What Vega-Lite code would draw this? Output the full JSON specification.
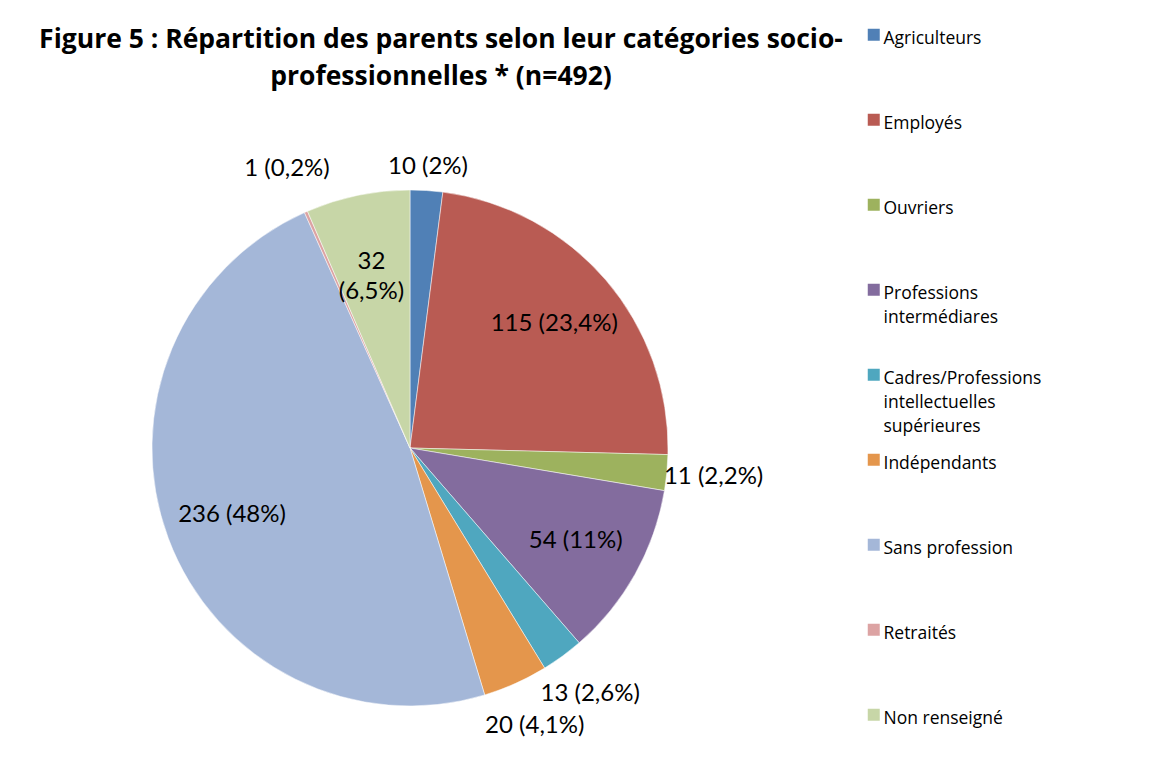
{
  "$schema": "https://vega.github.io/schema/vega-lite/v6.json",
  "width": 516,
  "height": 516,
  "autosize": {"type": "none"},
  "padding": {"left": 152, "top": 190, "right": 484, "bottom": 70},
  "background": "white",
  "config": {"view": {"stroke": null}, "font": "Lato", "style": {"guide-label": {"lineHeight": 24, "dy": -5}}},
  "title": {
    "text": ["Figure 5 : Répartition des parents selon leur catégories socio-", "professionnelles * (n=492)"],
    "font": "Open Sans",
    "fontSize": 26.5,
    "fontWeight": "bold",
    "color": "black",
    "anchor": "middle",
    "frame": "group",
    "dx": 31,
    "offset": -64,
    "lineHeight": 37
  },
  "data": {
    "values": [
      {"i": 1, "cat": "Agriculteurs", "n": 10, "label": "10 (2%)"},
      {"i": 2, "cat": "Employés", "n": 115, "label": "115 (23,4%)"},
      {"i": 3, "cat": "Ouvriers", "n": 11, "label": "11 (2,2%)"},
      {"i": 4, "cat": "Professions intermédiares", "n": 54, "label": "54 (11%)"},
      {"i": 5, "cat": "Cadres/Professions intellectuelles supérieures", "n": 13, "label": "13 (2,6%)"},
      {"i": 6, "cat": "Indépendants", "n": 20, "label": "20 (4,1%)"},
      {"i": 7, "cat": "Sans profession", "n": 236, "label": "236 (48%)"},
      {"i": 8, "cat": "Retraités", "n": 1, "label": "1 (0,2%)"},
      {"i": 9, "cat": "Non renseigné", "n": 32, "label": "32\n(6,5%)"}
    ]
  },
  "encoding": {
    "theta": {"field": "n", "type": "quantitative", "stack": true},
    "order": {"field": "i", "type": "quantitative"}
  },
  "layer": [
    {
      "mark": {"type": "arc", "stroke": "white", "strokeWidth": 0.5},
      "encoding": {
        "color": {
          "field": "cat",
          "type": "nominal",
          "sort": null,
          "scale": {
            "domain": ["Agriculteurs", "Employés", "Ouvriers", "Professions intermédiares", "Cadres/Professions intellectuelles supérieures", "Indépendants", "Sans profession", "Retraités", "Non renseigné"],
            "range": ["#5080B6", "#B95B53", "#9DB25E", "#836C9E", "#4FA7BF", "#E4964C", "#A4B7D8", "#DCA3A3", "#C7D6A7"]
          },
          "legend": {
            "orient": "none",
            "legendX": 713,
            "legendY": -164,
            "title": null,
            "padding": 0,
            "symbolType": "square",
            "symbolSize": 144,
            "symbolStrokeWidth": 0,
            "labelFont": "Open Sans",
            "labelFontSize": 17.5,
            "labelColor": "black",
            "labelLimit": 400,
            "labelOffset": 1,
            "labelBaseline": "top",
            "rowPadding": 15,
            "labelExpr": "datum.label == 'Professions intermédiares' ? ['Professions', 'intermédiares', ' '] : datum.label == 'Cadres/Professions intellectuelles supérieures' ? ['Cadres/Professions', 'intellectuelles', 'supérieures'] : [datum.label, ' ', ' ']"
          }
        }
      }
    },
    {
      "mark": {"type": "text", "radius": 190, "fontSize": 24, "font": "Lato", "color": "black", "lineBreak": "\n", "lineHeight": 30},
      "encoding": {
        "text": {"condition": {"test": "datum.n >= 30", "field": "label"}, "value": ""}
      }
    },
    {
      "mark": {"type": "text", "radius": 282, "fontSize": 24, "font": "Lato", "color": "black"},
      "encoding": {
        "text": {"condition": {"test": "datum.n < 30 && datum.i == 1", "field": "label"}, "value": ""}
      }
    },
    {
      "mark": {"type": "text", "radius": 305, "fontSize": 24, "font": "Lato", "color": "black"},
      "encoding": {
        "text": {"condition": {"test": "datum.n < 30 && datum.i != 1", "field": "label"}, "value": ""}
      }
    }
  ]
}
